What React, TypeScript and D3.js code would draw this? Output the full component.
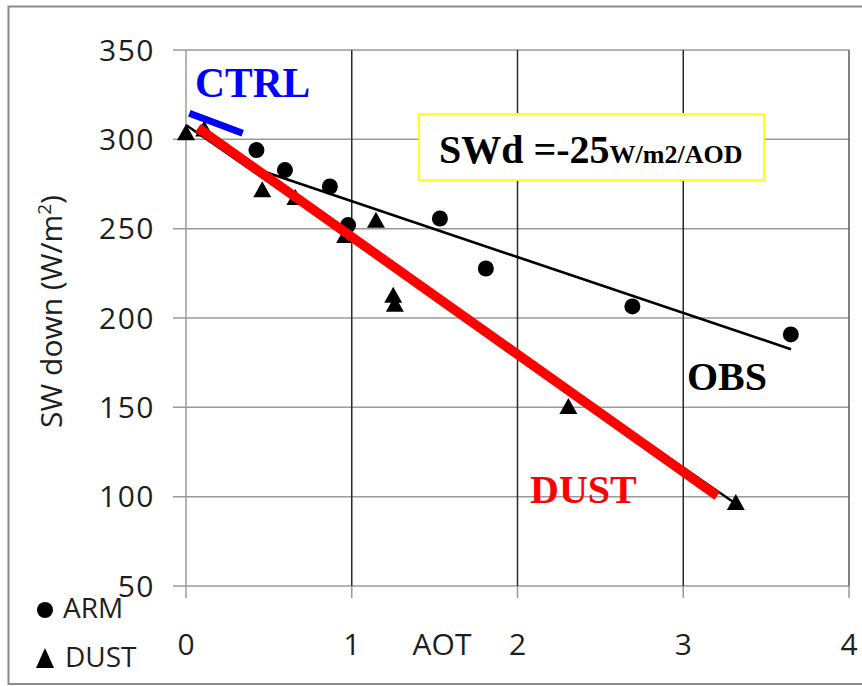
import React from "react";
import * as d3 from "d3";

// ---- data ----
const xTicks = [0, 1, 2, 3, 4];
const yTicks = [50, 100, 150, 200, 250, 300, 350];

const armX = [0.425, 0.597, 0.868, 0.978, 1.532, 1.809, 2.693, 3.649];
const armY = [294, 282.8, 273.6, 252, 255.7, 227.7, 206.5, 190.8];

const dustX = [0, 0.11, 0.46, 0.66, 0.96, 1.146, 1.25, 1.26, 2.307, 3.317];
const dustY = [304, 306, 272, 267.7, 246.5, 255, 213, 208, 150.8, 97];

// fitted / hand-drawn lines [x, y]
const obsLine: [number, number][] = [[0.425, 283.4], [3.65, 182.5]];
const dustTrend: [number, number][] = [[0, 308], [3.317, 96]];
const dustRed: [number, number][] = [[0.072, 306.4], [3.205, 100.4]];
const ctrlLine: [number, number][] = [[0.02, 314.6], [0.342, 303.4]];

const serif = "'Liberation Serif', 'Times New Roman', serif";
const sans = "'Open Sans', sans-serif";

export default function App() {
  const W = 862, H = 686;
  const x = d3.scaleLinear().domain([0, 4]).range([186, 849]);
  const y = d3.scaleLinear().domain([50, 350]).range([586, 50]);
  const line = d3.line<[number, number]>().x((d) => x(d[0])).y((d) => y(d[1]));

  const tri = (cx: number, cy: number, w: number, h: number) =>
    `M${cx},${cy - h / 2}L${cx + w / 2},${cy + h / 2}L${cx - w / 2},${cy + h / 2}Z`;

  return (
    <div style={{ position: "fixed", left: 0, top: 0 }}>
      <svg width={W} height={H} style={{ display: "block", background: "#fff" }}>
        <rect x={8.5} y={6.5} width={880} height={677.5} fill="#fff" stroke="#8a8a8a" strokeWidth={2} />

        {/* horizontal gridlines + y ticks */}
        {yTicks.map((t) => (
          <line key={"h" + t} x1={173} x2={x(4)} y1={y(t)} y2={y(t)} stroke="#9a9a9a" strokeWidth={1.5} />
        ))}
        {/* vertical gridlines */}
        {xTicks.map((t) => (
          <g key={"v" + t}>
            <line x1={x(t)} x2={x(t)} y1={y(50)} y2={598} stroke="#9a9a9a" strokeWidth={1.5} />
            <line
              x1={x(t)} x2={x(t)} y1={y(350)} y2={y(50)}
              stroke={t === 0 ? "#9a9a9a" : t === 4 ? "#5a5a5a" : "#2a2a2a"}
              strokeWidth={1.5}
            />
          </g>
        ))}

        {/* y tick labels */}
        {yTicks.map((t) => (
          <text key={"yl" + t} x={155} y={y(t) + 10.8} textAnchor="end" fontFamily={sans} fontSize={30} letterSpacing={1.5} fill="#1e1e1e">
            {t}
          </text>
        ))}
        {/* x tick labels */}
        {xTicks.map((t) => (
          <text key={"xl" + t} x={x(t)} y={655} textAnchor="middle" fontFamily={sans} fontSize={30} fill="#1e1e1e">
            {t}
          </text>
        ))}
        <text x={442} y={655} textAnchor="middle" fontFamily={sans} fontSize={30} fill="#1e1e1e">AOT</text>

        {/* y title */}
        <text transform="translate(62,311.5) rotate(-90)" textAnchor="middle" fontFamily={sans} fontSize={30} fill="#1e1e1e">
          SW down (W/m<tspan fontSize={19} dy={-11}>2</tspan><tspan dy={11}>)</tspan>
        </text>

        {/* markers */}
        {armX.map((v, i) => (
          <circle key={"a" + i} cx={x(v)} cy={y(armY[i])} r={8} fill="#000" />
        ))}
        {dustX.map((v, i) => (
          <path key={"d" + i} d={tri(x(v), y(dustY[i]), 18, 16)} fill="#000" />
        ))}

        {/* trend lines */}
        <path d={line(obsLine) ?? ""} stroke="#000" strokeWidth={2.6} fill="none" />
        <path d={line(dustTrend) ?? ""} stroke="#000" strokeWidth={2.4} fill="none" />
        <path d={line(dustRed) ?? ""} stroke="#ff0000" strokeWidth={9.5} fill="none" />
        <path d={line(ctrlLine) ?? ""} stroke="#0000ff" strokeWidth={7} fill="none" />

        {/* annotation box */}
        <rect x={419} y={114} width={345} height={66} fill="#fff" stroke="#ffff00" strokeWidth={1.8} />
        <text x={439} y={162.7} fontFamily={serif} fontWeight="bold" fontSize={40} fill="#000">
          SWd =-25<tspan fontSize={26}>W/m2/AOD</tspan>
        </text>

        {/* labels */}
        <text x={195} y={97} fontFamily={serif} fontWeight="bold" fontSize={41.5} fill="#0000ff">CTRL</text>
        <text x={687} y={390} fontFamily={serif} fontWeight="bold" fontSize={40} fill="#000">OBS</text>
        <text x={530} y={503} fontFamily={serif} fontWeight="bold" fontSize={40} fill="#ff0000">DUST</text>

        {/* legend */}
        <circle cx={45} cy={610} r={8} fill="#000" />
        <text x={63} y={618} fontFamily={sans} fontSize={28} fill="#1e1e1e">ARM</text>
        <path d={tri(45, 658, 18, 20)} fill="#000" />
        <text x={65} y={667} fontFamily={sans} fontSize={28} fill="#1e1e1e">DUST</text>
      </svg>
    </div>
  );
}
